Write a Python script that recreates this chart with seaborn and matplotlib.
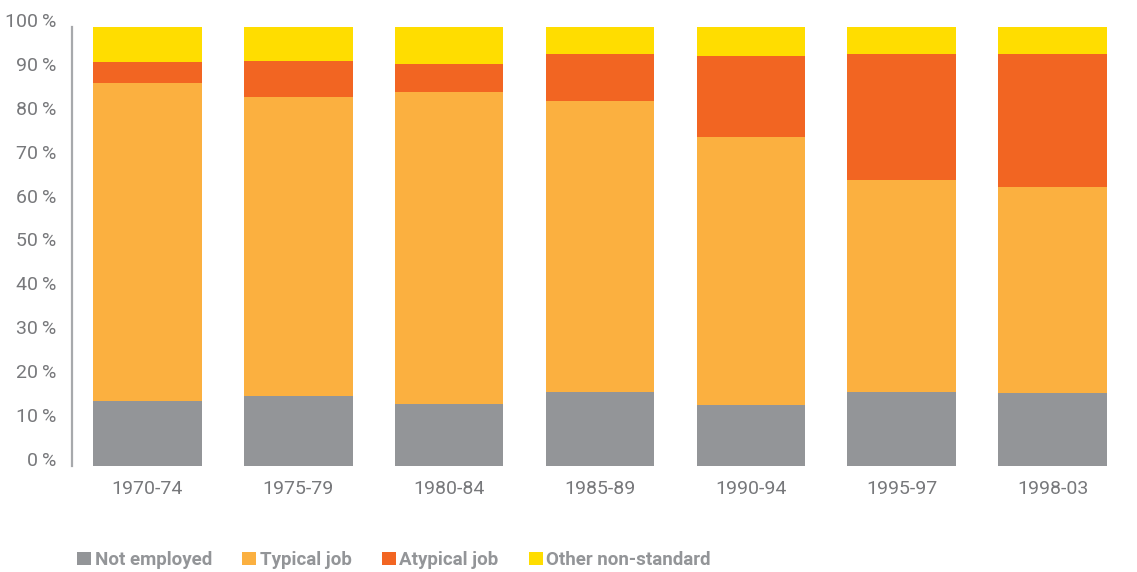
import numpy as np
import pandas as pd
import matplotlib
matplotlib.use('Agg')
import matplotlib.pyplot as plt
import matplotlib.transforms as mtransforms
from matplotlib.patches import Patch
import seaborn as sns

periods = ['1970-74', '1975-79', '1980-84', '1985-89', '1990-94', '1995-97', '1998-03']
not_employed = [14.9, 15.9, 14.1, 16.9, 13.9, 16.9, 16.6]
typical_job = [72.3, 68.2, 71.1, 66.2, 61.0, 48.2, 47.0]
atypical_job = [4.8, 8.2, 6.4, 10.7, 18.5, 28.7, 30.2]
other_nonstandard = [round(100 - a - b - c, 1) for a, b, c in zip(not_employed, typical_job, atypical_job)]
y_ticks = list(range(0, 101, 10))

series_names = ['Not employed', 'Typical job', 'Atypical job', 'Other non-standard']
series_values = [not_employed, typical_job, atypical_job, other_nonstandard]
colors = ['#939598', '#FBB040', '#F26522', '#FFDD00']
text_grey = '#77787b'
axis_grey = '#a7a9ac'

sns.set_style('white')
plt.rcParams['font.family'] = ['Roboto', 'DejaVu Sans']

fig = plt.figure(figsize=(11.37, 5.72), dpi=100)
ax = fig.add_axes([72 / 1137, 1 - 466 / 572, (1128 - 72) / 1137, (466 - 27) / 572])

bottom = np.zeros(len(periods))
for name, vals, col in zip(series_names, series_values, colors):
    sns.barplot(x=periods, y=vals, bottom=bottom, color=col, width=0.72,
                saturation=1, ax=ax, label=name, linewidth=0)
    bottom = bottom + np.array(vals)

ax.set_xlim(-0.5, 6.5)
ax.set_ylim(0, 100)
ax.set_yticks(y_ticks)
ax.set_yticklabels([f'{v}\u2009%' for v in y_ticks])
ax.set_xlabel('')
ax.set_ylabel('')
if ax.get_legend():
    ax.get_legend().remove()

for s in ['top', 'right', 'bottom']:
    ax.spines[s].set_visible(False)
ax.spines['left'].set_color(axis_grey)
ax.spines['left'].set_linewidth(1.6)

ax.tick_params(axis='y', direction='in', length=7.5, width=1.2, color=axis_grey,
               labelsize=14, labelcolor=text_grey, pad=11)
ax.tick_params(axis='x', which='major', length=0, labelsize=14, labelcolor=text_grey, pad=10)
ax.set_xticks(np.arange(0.5, 6, 1), minor=True)
ax.tick_params(axis='x', which='minor', direction='in', length=9, width=1.2, color=axis_grey)

offset = mtransforms.ScaledTranslation(0, 7 / 100, fig.dpi_scale_trans)
for lab in ax.get_yticklabels():
    lab.set_transform(lab.get_transform() + offset)

handles = [Patch(facecolor=c, edgecolor='none') for c in colors]
leg = fig.legend(handles, series_names, loc='center left', bbox_to_anchor=(60 / 1137, 1 - 560 / 572),
                 ncol=4, frameon=False, handlelength=0.75, handleheight=0.75,
                 handletextpad=0.2, columnspacing=1.6,
                 prop={'size': 13.5, 'weight': 'bold'})
for t in leg.get_texts():
    t.set_color('#939598')

fig.savefig('out.png', dpi=100)
